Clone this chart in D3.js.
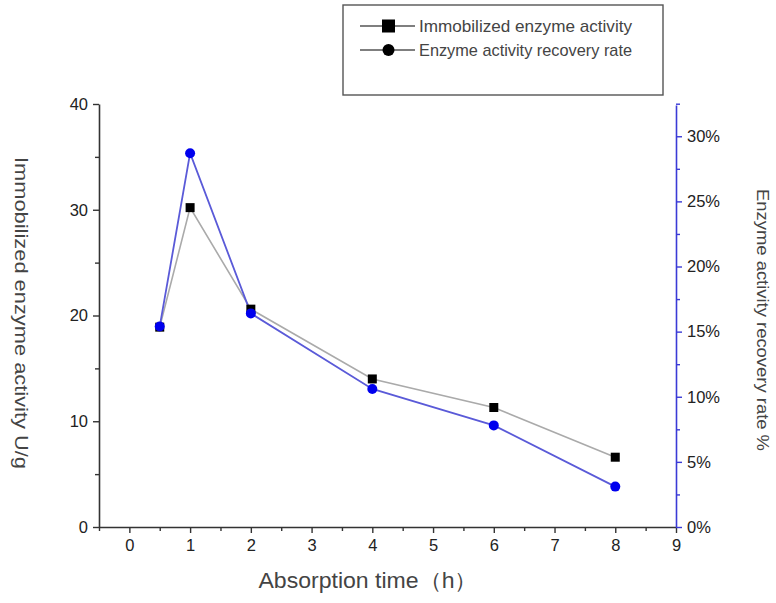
<!DOCTYPE html>
<html><head><meta charset="utf-8">
<script src="https://cdn.jsdelivr.net/npm/d3@7"></script>
<style>body{margin:0;background:#fff}svg{display:block;font-family:"Liberation Sans",Arial,sans-serif}</style>
</head><body><svg id="c" width="776" height="603"></svg>
<script>
const times = [0.5, 1, 2, 4, 6, 8];
const activity = [18.9, 30.2, 20.6, 14.0, 11.3, 6.6];
const recovery = [0.154, 0.287, 0.164, 0.106, 0.078, 0.031];
const xTicks = [0,1,2,3,4,5,6,7,8,9];
const leftTicks = [0,10,20,30,40];
const rightTicks = [0,0.05,0.10,0.15,0.20,0.25,0.30];
const seriesNames = ["Immobilized enzyme activity", "Enzyme activity recovery rate"];

const svg = d3.select("#c");
const L = 99, R = 676, T = 104, B = 527;
const x = d3.scaleLinear().domain([-0.5, 9]).range([L, R]);
const yL = d3.scaleLinear().domain([0, 40]).range([B, T]);
const yR = d3.scaleLinear().domain([0, 0.324]).range([B, T + 1]);

const dark = "#333";
const blue = "#3a3ad6";
function styleAxis(g, col){
  g.selectAll(".domain").attr("stroke", col).attr("stroke-width", 1.6);
  g.selectAll(".tick line").attr("stroke", col).attr("stroke-width", 1.4);
  g.selectAll(".tick text").attr("font-size", 16.5).attr("fill", "#222");
}
// left axis
styleAxis(svg.append("g").attr("transform", `translate(${L},0)`)
  .call(d3.axisLeft(yL).tickValues(leftTicks).tickSize(6).tickPadding(5).tickSizeOuter(0)), dark);
const mL = svg.append("g").attr("transform", `translate(${L},0)`)
  .call(d3.axisLeft(yL).tickValues(d3.range(5,40,10)).tickSize(4).tickFormat("").tickSizeOuter(0));
mL.select(".domain").remove(); styleAxis(mL, dark);
// x axis
styleAxis(svg.append("g").attr("transform", `translate(0,${B})`)
  .call(d3.axisBottom(x).tickValues(xTicks).tickSize(6).tickPadding(6).tickSizeOuter(0)), dark);
const mX = svg.append("g").attr("transform", `translate(0,${B})`)
  .call(d3.axisBottom(x).tickValues(d3.range(-0.5,9,1)).tickSize(4).tickFormat("").tickSizeOuter(0));
mX.select(".domain").remove(); styleAxis(mX, dark);
// right axis
styleAxis(svg.append("g").attr("transform", `translate(${R},0)`)
  .call(d3.axisRight(yR).tickValues(rightTicks).tickSize(6).tickPadding(5).tickSizeOuter(0)
  .tickFormat(d => Math.round(d*100) + "%")), blue);
const mR = svg.append("g").attr("transform", `translate(${R},0)`)
  .call(d3.axisRight(yR).tickValues(d3.range(0.025,0.33,0.05)).tickSize(4).tickFormat("").tickSizeOuter(0));
mR.select(".domain").remove(); styleAxis(mR, blue);

// lines
const data = times.map((t,i)=>({t, a: activity[i], r: recovery[i]}));
svg.append("path").datum(data).attr("fill","none").attr("stroke","#aaaaaa").attr("stroke-width",1.6)
  .attr("d", d3.line().x(d=>x(d.t)).y(d=>yL(d.a)));
svg.append("path").datum(data).attr("fill","none").attr("stroke","#5a5ad8").attr("stroke-width",1.8)
  .attr("d", d3.line().x(d=>x(d.t)).y(d=>yR(d.r)));
svg.selectAll(".sq").data(data).join("rect").attr("class","sq")
  .attr("x", d=>x(d.t)-4.5).attr("y", d=>yL(d.a)-4.5).attr("width",9).attr("height",9)
  .attr("fill","#000");
svg.selectAll(".ci").data(data).join("circle").attr("class","ci")
  .attr("cx", d=>x(d.t)).attr("cy", d=>yR(d.r)).attr("r",5).attr("fill","#0000ee");

// axis titles
svg.append("text").attr("transform", `translate(15,313) rotate(90)`).attr("text-anchor","middle")
  .attr("font-size",19).attr("fill","#444").attr("textLength",312).attr("lengthAdjust","spacingAndGlyphs")
  .text("Immobilized enzyme activity U/g");
svg.append("text").attr("transform", `translate(757,320) rotate(90)`).attr("text-anchor","middle")
  .attr("font-size",17).attr("fill","#444").attr("textLength",262).attr("lengthAdjust","spacingAndGlyphs")
  .text("Enzyme activity recovery rate %");
svg.append("text").attr("x",368).attr("y",588).attr("text-anchor","middle")
  .attr("font-size",22).attr("fill","#444").attr("textLength",219).attr("lengthAdjust","spacingAndGlyphs")
  .text("Absorption time（h）");

// legend
const lg = svg.append("g");
lg.append("rect").attr("x",343).attr("y",5).attr("width",320).attr("height",90)
  .attr("fill","#fff").attr("stroke","#555").attr("stroke-width",1.4);
seriesNames.forEach((name,i)=>{
  const yy = 26 + i*24;
  lg.append("line").attr("x1",360).attr("x2",415).attr("y1",yy).attr("y2",yy)
    .attr("stroke","#555").attr("stroke-width",1.4);
  if(i===0) lg.append("rect").attr("x",382).attr("y",yy-6.5).attr("width",13).attr("height",13).attr("fill","#000");
  else lg.append("circle").attr("cx",388.5).attr("cy",yy).attr("r",6).attr("fill","#000");
  lg.append("text").attr("x",419).attr("y",yy+6).attr("font-size",17).attr("fill","#444")
    .attr("textLength", 213).attr("lengthAdjust","spacingAndGlyphs").text(name);
});
</script></body></html>
